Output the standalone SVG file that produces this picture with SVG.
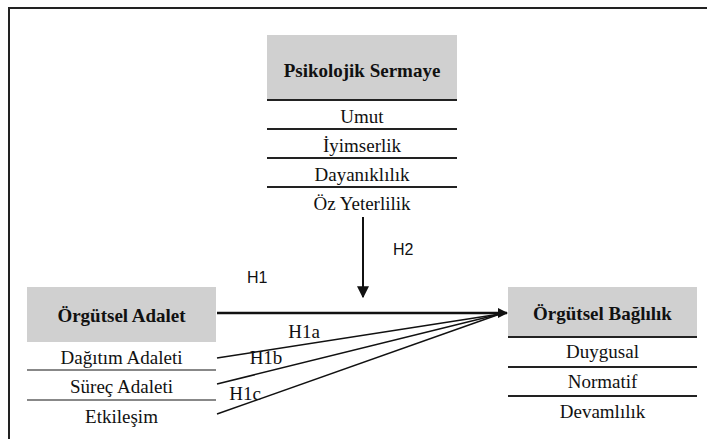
<svg xmlns="http://www.w3.org/2000/svg" width="707" height="439" viewBox="0 0 707 439">
<defs>
<style>
.t{font-family:"Liberation Serif","Times New Roman",serif;font-size:19px;fill:#111;text-anchor:middle}
.b{font-weight:bold}
.s{font-family:"Liberation Sans",Arial,sans-serif;font-size:16px;fill:#111}
.hd{fill:#d0d0d0}
.dk{stroke:#222;stroke-width:2}
.lt{stroke:#888;stroke-width:2}
.c{stroke:#111;fill:none}
</style>
<marker id="ah" viewBox="0 0 10 10" refX="9" refY="5" markerWidth="10" markerHeight="10" markerUnits="userSpaceOnUse" orient="auto">
<path d="M0,0 L10,5 L0,10 Z" fill="#111"/>
</marker>
<marker id="ah2" viewBox="0 0 10 10" refX="9" refY="5" markerWidth="12" markerHeight="12" markerUnits="userSpaceOnUse" orient="auto">
<path d="M0,0 L10,5 L0,10 Z" fill="#111"/>
</marker>
</defs>
<rect width="707" height="439" fill="#fff"/>
<path d="M9,439 V8 H707" fill="none" stroke="#222" stroke-width="2"/>

<g id="psikolojik-sermaye">
<rect class="hd" x="267" y="35" width="190" height="65"/>
<line class="dk" x1="267" y1="100" x2="457" y2="100"/>
<text class="t b" x="362" y="77">Psikolojik Sermaye</text>
<text class="t" x="362" y="123">Umut</text>
<line class="dk" x1="267" y1="129" x2="457" y2="129"/>
<text class="t" x="362" y="152">İyimserlik</text>
<line class="dk" x1="267" y1="158" x2="457" y2="158"/>
<text class="t" x="362" y="181">Dayanıklılık</text>
<line class="dk" x1="267" y1="187" x2="457" y2="187"/>
<text class="t" x="362" y="210">Öz Yeterlilik</text>
</g>

<g id="orgutsel-adalet">
<rect class="hd" x="27" y="287" width="189" height="55"/>
<text class="t b" x="121.5" y="322">Örgütsel Adalet</text>
<text class="t" x="121.5" y="364">Dağıtım Adaleti</text>
<line class="lt" x1="27" y1="370" x2="216" y2="370"/>
<text class="t" x="121.5" y="393">Süreç Adaleti</text>
<line class="lt" x1="27" y1="400" x2="216" y2="400"/>
<text class="t" x="121.5" y="423">Etkileşim</text>
</g>

<g id="orgutsel-baglilik">
<rect class="hd" x="508" y="287" width="189" height="50"/>
<line class="dk" x1="508" y1="337" x2="697" y2="337"/>
<text class="t b" x="602.5" y="320">Örgütsel Bağlılık</text>
<text class="t" x="602.5" y="358">Duygusal</text>
<line class="dk" x1="508" y1="367" x2="697" y2="367"/>
<text class="t" x="602.5" y="388">Normatif</text>
<line class="dk" x1="508" y1="396" x2="697" y2="396"/>
<text class="t" x="602.5" y="418">Devamlılık</text>
</g>

<g id="connectors">
<line class="c" stroke-width="2" x1="363" y1="217" x2="363" y2="297" marker-end="url(#ah2)"/>
<line class="c" stroke-width="2.5" x1="217" y1="313" x2="507" y2="313" marker-end="url(#ah)"/>
<line class="c" stroke-width="1.5" x1="217" y1="358" x2="500" y2="314"/>
<line class="c" stroke-width="1.5" x1="217" y1="384" x2="500" y2="314"/>
<line class="c" stroke-width="1.5" x1="217" y1="414" x2="500" y2="314"/>
</g>

<g id="labels">
<text class="s" x="393" y="255">H2</text>
<text class="s" x="247" y="283">H1</text>
<text class="t" x="304" y="338">H1a</text>
<text class="t" x="266" y="364">H1b</text>
<text class="t" x="245" y="400">H1c</text>
</g>
</svg>
